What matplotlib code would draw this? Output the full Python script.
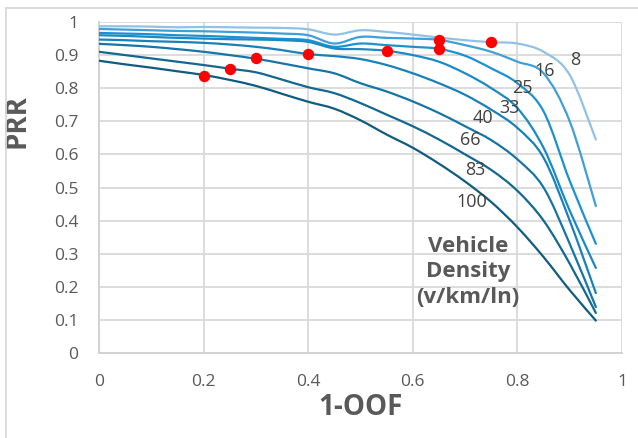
import numpy as np
import matplotlib
matplotlib.use("Agg")
from matplotlib import pyplot as plt
from matplotlib.lines import Line2D
from matplotlib.path import Path
from matplotlib.patches import PathPatch

x = [0, 0.05, 0.1, 0.15, 0.2, 0.25, 0.3, 0.35, 0.4, 0.45,
     0.5, 0.55, 0.6, 0.65, 0.7, 0.75, 0.8, 0.85, 0.9, 0.95]

densities = ["8", "16", "25", "33", "40", "66", "83", "100"]

prr_8 = [0.987, 0.987, 0.986, 0.984, 0.985, 0.984, 0.983, 0.982, 0.978, 0.962,
         0.975, 0.970, 0.962, 0.953, 0.945, 0.939, 0.935, 0.910, 0.840, 0.645]
prr_16 = [0.979, 0.977, 0.975, 0.973, 0.972, 0.970, 0.968, 0.965, 0.960, 0.935,
          0.955, 0.952, 0.950, 0.946, 0.930, 0.910, 0.880, 0.845, 0.700, 0.444]
prr_25 = [0.967, 0.965, 0.963, 0.960, 0.958, 0.955, 0.952, 0.949, 0.945, 0.925,
          0.935, 0.930, 0.925, 0.919, 0.898, 0.860, 0.815, 0.730, 0.520, 0.330]
prr_33 = [0.960, 0.958, 0.955, 0.952, 0.950, 0.948, 0.947, 0.945, 0.940, 0.920,
          0.918, 0.913, 0.900, 0.880, 0.845, 0.800, 0.740, 0.620, 0.430, 0.257]
prr_40 = [0.947, 0.945, 0.942, 0.940, 0.937, 0.932, 0.925, 0.915, 0.903, 0.897,
          0.888, 0.870, 0.845, 0.815, 0.780, 0.735, 0.680, 0.590, 0.400, 0.181]
prr_66 = [0.934, 0.930, 0.925, 0.918, 0.910, 0.900, 0.889, 0.875, 0.860, 0.845,
          0.815, 0.790, 0.760, 0.725, 0.685, 0.643, 0.585, 0.500, 0.330, 0.139]
prr_83 = [0.910, 0.900, 0.890, 0.880, 0.870, 0.859, 0.848, 0.826, 0.803, 0.785,
          0.755, 0.720, 0.685, 0.645, 0.600, 0.553, 0.490, 0.400, 0.270, 0.121]
prr_100 = [0.883, 0.872, 0.862, 0.851, 0.840, 0.825, 0.807, 0.783, 0.759, 0.738,
           0.703, 0.660, 0.620, 0.572, 0.518, 0.456, 0.380, 0.290, 0.190, 0.098]

series = [prr_8, prr_16, prr_25, prr_33, prr_40, prr_66, prr_83, prr_100]

# best points (red)
best_x = [0.2, 0.25, 0.3, 0.4, 0.55, 0.65, 0.65, 0.75]
best_y = [0.838, 0.859, 0.890, 0.903, 0.913, 0.919, 0.946, 0.939]

colors = ["#92c1e4", "#3f9fd8", "#1b92cf", "#198ac4", "#1781b8",
          "#1575a7", "#126891", "#0f5c80"]

# label positions next to the curves
label_x = [0.91, 0.853, 0.81, 0.784, 0.734, 0.709, 0.719, 0.712]
label_y = [0.885, 0.852, 0.80, 0.74, 0.71, 0.643, 0.553, 0.455]


def smooth_path(xs, ys):
    # excel-like smoothed line: cubic bezier through the points
    pts = np.column_stack([xs, ys])
    n = len(pts)
    verts = [pts[0]]
    codes = [Path.MOVETO]
    for i in range(n - 1):
        p0 = pts[i - 1] if i > 0 else pts[i]
        p1 = pts[i]
        p2 = pts[i + 1]
        p3 = pts[i + 2] if i + 2 < n else pts[i + 1]
        verts += [p1 + (p2 - p0) / 6, p2 - (p3 - p1) / 6, p2]
        codes += [Path.CURVE4] * 3
    return Path(verts, codes)


plt.rcParams['font.family'] = ['Open Sans', 'DejaVu Sans']

fig = plt.figure(figsize=(6.38, 4.38), dpi=100)
ax = fig.add_axes([99/638, 1-353/438, (622-99)/638, (353-22)/438])

for ys, c in zip(series, colors):
    ax.add_patch(PathPatch(smooth_path(x, ys), fill=False, edgecolor=c, lw=1.6,
                           capstyle='round', zorder=3))

ax.plot(best_x, best_y, 'o', color='#ff0000', ms=7.2, mec='#ff0000', zorder=5)

for lab, lx, ly in zip(densities, label_x, label_y):
    ax.text(lx, ly, lab, fontsize=13, color='#404040', ha='center', va='center', zorder=4)

ax.text(0.705, 0.245, "Vehicle\nDensity\n(v/km/ln)", fontsize=16, fontweight='bold',
        color='#595959', ha='center', va='center', linespacing=1.3, zorder=4)

ax.set_xlim(0, 1)
ax.set_ylim(0, 1)
ax.set_xticks(np.arange(0, 1.01, 0.2))
ax.set_yticks(np.arange(0, 1.01, 0.1))
ax.set_xticklabels(["0", "0.2", "0.4", "0.6", "0.8", "1"])
ax.set_yticklabels(["0", "0.1", "0.2", "0.3", "0.4", "0.5", "0.6", "0.7", "0.8", "0.9", "1"])
ax.grid(True, color='#d9d9d9', lw=1.3, zorder=0)
ax.tick_params(length=0, labelsize=12.5, labelcolor='#595959')
ax.tick_params(axis='x', pad=15)
ax.tick_params(axis='y', pad=15)
for s in ['top', 'right']:
    ax.spines[s].set_visible(False)
for s in ['left', 'bottom']:
    ax.spines[s].set_color('#d0d0d0')
    ax.spines[s].set_linewidth(1.3)

ax.set_xlabel("1-OOF", fontsize=20, fontweight='bold', color='#595959', labelpad=2)
ax.set_ylabel("PRR", fontsize=20, fontweight='bold', color='#595959', labelpad=6)
ax.yaxis.set_label_coords(-0.13, 0.70)

# chart area border (only left and top fall inside the picture)
fig.add_artist(Line2D([6/638, 6/638], [0, 1-8/438], transform=fig.transFigure, color='#d9d9d9', lw=1.3))
fig.add_artist(Line2D([6/638, 1], [1-8/438, 1-8/438], transform=fig.transFigure, color='#d9d9d9', lw=1.3))

fig.savefig("out.png", dpi=100)
